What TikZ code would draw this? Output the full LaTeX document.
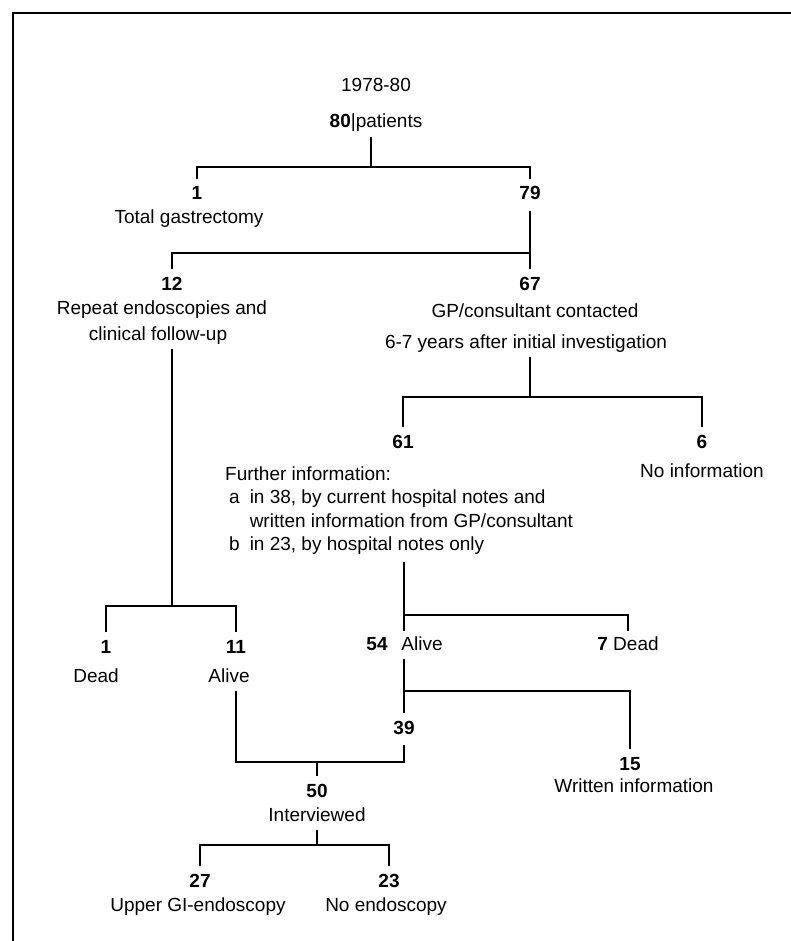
\documentclass[tikz,border=0pt]{standalone}
\usepackage{fontspec}
\setmainfont{Liberation Sans}
\usepackage{tikz}
\usetikzlibrary{positioning}
\tikzstyle{lab}=[font=\fontsize{19}{23.5}\selectfont, text height=14pt, text depth=4pt, inner sep=5pt]
\tikzstyle{num}=[font=\fontsize{19}{23.5}\selectfont\bfseries, text height=14pt, text depth=4pt, inner sep=7pt]
\tikzstyle{tree}=[line width=1.8pt, line cap=butt, line join=miter]

\begin{document}
\begin{tikzpicture}[x=1pt,y=-1pt]
\useasboundingbox (0,0) rectangle (791,941);
%Frame
\draw[line width=2.2pt] (13,941) -- (13,13) -- (791,13);

%Top
\node[lab] (yr) at (376,87){1978-80};
\node[lab] (pat) at (376,123){\textbf{80}|patients};
\node[num] (n1) at (197,195){1};
\node[lab] (gast) at (189,218){Total gastrectomy};
\node[num] (n79) at (530,195){79};
\node[num] (n12) at (172,285){12};
\node[lab] (rep1) at (162,309){Repeat endoscopies and};
\node[lab] (rep2) at (158,335){clinical follow-up};
\node[num] (n67) at (530,285){67};
\node[lab] (gp1) at (535,312){GP/consultant contacted};
\node[lab] (gp2) at (526,343){6-7 years after initial investigation};

%Right branch
\node[num] (n61) at (403,443){61};
\node[num] (n6) at (702,443){6};
\node[lab] (noinfo) at (702,472){No information};
\node[font=\fontsize{19}{23.5}\selectfont, inner sep=0pt, anchor=north west] (further) at (225,463.5){%
\begin{tabular}{@{}l@{\hspace{10pt}}l@{}}
\multicolumn{2}{@{}l}{Further information:}\\
\hspace{4pt}a & in 38, by current hospital notes and\\
 & written information from GP/consultant\\
\hspace{4pt}b & in 23, by hospital notes only
\end{tabular}};
\node[num] (n54) at (377,645){54};
\node[lab] (alive54) at (422,645){Alive};
\node[lab] (dead7) at (628,645){\textbf{7} Dead};
\node[num] (n39) at (404,729){39};
\node[num] (n15) at (630,765){15};
\node[lab] (wrinfo) at (634,787){Written information};

%Left branch
\node[num] (d1) at (106,648){1};
\node[num] (n11) at (236,648){11};
\node[lab] (dead1) at (96,677){Dead};
\node[lab] (alive11) at (229,677){Alive};

%Bottom
\node[num] (n50) at (317,792){50};
\node[lab] (intv) at (317,816){Interviewed};
\node[num] (n27) at (200,882){27};
\node[num] (n23) at (389,882){23};
\node[lab] (upper) at (198,906){Upper GI-endoscopy};
\node[lab] (noendo) at (386,906){No endoscopy};

%Junctions
\coordinate (j1) at (371,167);
\coordinate (j2) at (530,253);
\coordinate (j3) at (172,606);
\coordinate (j4) at (317,762);
\coordinate (j5) at (317,845);
\coordinate (j6) at (530,397);
\coordinate (j7) at (404,615);
\coordinate (j8) at (404,691);

%Lines
\draw[tree] (j1 |- pat.south) -- (j1);
\draw[tree] (n1) |- (j1) -| (n79);
\draw[tree] (n79) -- (n67);
\draw[tree] (n12) |- (j2);
\draw[tree] (j3 |- rep2.south) -- (j3);
\draw[tree] (d1) |- (j3) -| (n11);
\draw[tree] (alive11.south -| n11) |- (j4) -| (n39);
\draw[tree] (j4) -- (n50);
\draw[tree] (intv) -- (j5);
\draw[tree] (n27) |- (j5) -| (n23);
\draw[tree] (j6 |- gp2.south) -- (j6);
\draw[tree] (n61) |- (j6) -| (n6);
\draw[tree, shorten <=4pt] (further.south -| j7) -- (alive54.north -| j7);
\draw[tree] (j7) -| (dead7);
\draw[tree] (alive54.south -| n39) -- (n39);
\draw[tree] (j8) -| (n15);
\end{tikzpicture}
\end{document}
